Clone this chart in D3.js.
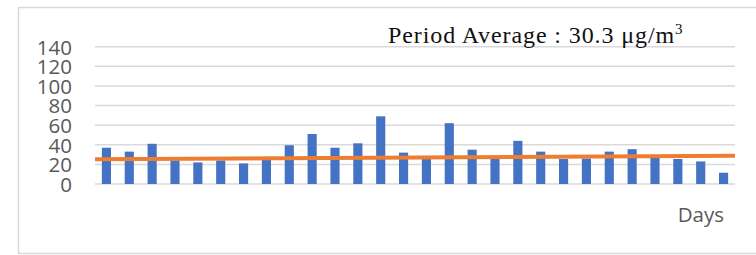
<!DOCTYPE html>
<html>
<head>
<meta charset="utf-8">
<script src="https://cdn.jsdelivr.net/npm/d3@7"></script>
<style>
  body { margin: 0; background: #fff; }
  svg { display: block; }
</style>
</head>
<body>
<div id="chart"></div>
<script>
// daily concentrations, one per day
const days = d3.range(1, 29);
const values = [37, 33, 41, 24, 22, 24, 21, 24.5, 39.5, 51, 37, 41.5, 69, 32, 26,
    62, 35, 26, 44, 33, 25.5, 26, 33, 35.5, 27, 25.5, 23, 11.5];
// linear trendline, value at first and last day
const trend = [25.2, 28.9];
const yTicks = [0, 20, 40, 60, 80, 100, 120, 140];
const note = "Period Average : 30.3 μg/m";
const xTitle = "Days";

const width = 756, height = 255;

const svg = d3.select("#chart")
    .append("svg")
    .attr("width", width)
    .attr("height", height);

// chart frame (cut off on the right in the original)
svg.append("rect")
    .attr("x", 18.5).attr("y", 7.5)
    .attr("width", 760).attr("height", 246)
    .attr("fill", "none")
    .attr("stroke", "#d9d9d9")
    .attr("stroke-width", 1.5);

const x = d3.scaleBand()
    .domain(days)
    .range([95, 735])
    .paddingInner(0.6)
    .paddingOuter(0.3);

const y = d3.scaleLinear()
    .domain([0, 140])
    .range([184, 46.7]);

// gridlines
svg.append("g")
    .selectAll("line")
    .data(yTicks)
    .join("line")
    .attr("x1", 95).attr("x2", 735)
    .attr("y1", d => y(d)).attr("y2", d => y(d))
    .attr("stroke", "#d9d9d9")
    .attr("stroke-width", 1.5);

// y axis labels
const yAxis = svg.append("g")
    .attr("transform", "translate(72,0)")
    .call(d3.axisLeft(y).tickValues(yTicks).tickSize(0).tickPadding(0));
yAxis.select(".domain").remove();
yAxis.selectAll("text")
    .attr("fill", "#595959")
    .attr("font-family", "'Open Sans', sans-serif")
    .attr("font-size", 20.5)
    .attr("dy", "0.36em");

// bars
svg.append("g")
    .selectAll("rect")
    .data(values)
    .join("rect")
    .attr("x", (d, i) => x(days[i]))
    .attr("width", x.bandwidth())
    .attr("y", d => y(d))
    .attr("height", d => y(0) - y(d))
    .attr("fill", "#4472c4");

// trendline
const first = x(days[0]) - x.step() * 0.3;
const last = x(days[days.length - 1]) + x.bandwidth() + x.step() * 0.3;
svg.append("line")
    .attr("x1", first).attr("x2", last)
    .attr("y1", y(trend[0])).attr("y2", y(trend[1]))
    .attr("stroke", "#ed7d31")
    .attr("stroke-width", 4);

// period average note
const t = svg.append("text")
    .attr("x", 388).attr("y", 43)
    .attr("font-family", "'Liberation Serif', 'DejaVu Serif', serif")
    .attr("font-size", 24)
    .attr("letter-spacing", 0.9)
    .attr("fill", "#111")
    .text(note);
t.append("tspan")
    .attr("dy", -9)
    .attr("font-size", 15)
    .text("3");

// x title
svg.append("text")
    .attr("x", 724).attr("y", 222)
    .attr("text-anchor", "end")
    .attr("font-family", "'Open Sans', sans-serif")
    .attr("font-size", 20.5)
    .attr("fill", "#595959")
    .text(xTitle);
</script>
</body>
</html>
